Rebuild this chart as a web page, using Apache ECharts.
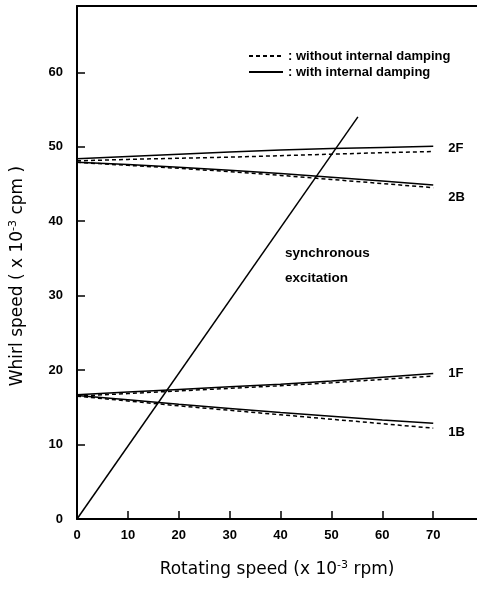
<!DOCTYPE html>
<html>
<head>
<meta charset="utf-8">
<script src="https://cdn.jsdelivr.net/npm/echarts@6/dist/echarts.min.js"></script>
<style>
html,body{margin:0;padding:0;background:#fff;}
#main{width:477px;height:589px;}
</style>
</head>
<body>
<div id="main"></div>
<script>
// Rotating speed (x 10^-3 rpm)
const rotSpeed = [0, 10, 20, 30, 40, 50, 60, 70];
// Whirl speed (x 10^-3 cpm), with internal damping (solid)
const f2With    = [48.4, 48.7, 49.0, 49.3, 49.55, 49.75, 49.9, 50.05];
const b2With    = [47.9, 47.6, 47.25, 46.85, 46.4, 45.9, 45.4, 44.85];
const f1With    = [16.7, 17.05, 17.4, 17.75, 18.1, 18.55, 19.05, 19.55];
const b1With    = [16.6, 16.0, 15.4, 14.85, 14.3, 13.8, 13.3, 12.85];
// without internal damping (dashed)
const f2Without = [48.1, 48.3, 48.45, 48.6, 48.8, 49.0, 49.2, 49.35];
const b2Without = [47.9, 47.5, 47.1, 46.65, 46.15, 45.6, 45.05, 44.5];
const f1Without = [16.5, 16.85, 17.2, 17.55, 17.9, 18.3, 18.75, 19.2];
const b1Without = [16.5, 15.85, 15.2, 14.6, 14.0, 13.4, 12.8, 12.2];
// synchronous excitation line
const syncX = [0, 55.2];
const syncY = [0, 54.0];
const modeLabels = ['2F', '2B', '1F', '1B'];
const xTicks = [0, 10, 20, 30, 40, 50, 60, 70];
const yTicks = [0, 10, 20, 30, 40, 50, 60];

const WITH = 'with internal damping';
const WITHOUT = 'without internal damping';
const pair = (xs, ys) => xs.map((x, i) => [x, ys[i]]);

const labelOffsets = {'2F': [0, 2], '2B': [0, 12], '1F': [0, 0], '1B': [0, 9]};

function solid(ys, lab) {
  return {
    name: WITH, type: 'line', data: pair(rotSpeed, ys), symbol: 'none',
    lineStyle: {color: '#000', width: 1.5, type: 'solid'}, itemStyle: {color: '#000'},
    z: 3,
    endLabel: {show: true, formatter: lab, distance: 15, offset: labelOffsets[lab],
      color: '#000', fontSize: 13, fontWeight: 'bold', fontFamily: 'Liberation Sans'}
  };
}
function dashed(ys) {
  return {
    name: WITHOUT, type: 'line', data: pair(rotSpeed, ys), symbol: 'none',
    lineStyle: {color: '#000', width: 1.5, type: [4, 3]}, itemStyle: {color: '#000'}
  };
}

const chart = echarts.init(document.getElementById('main'));
const font = 'Liberation Sans';
chart.setOption({
  animation: false,
  backgroundColor: '#fff',
  grid: {left: 77, right: 0, top: 6, bottom: 70},
  legend: {
    orient: 'vertical', left: 243, top: 43, itemWidth: 34, itemHeight: 10, itemGap: 0,
    data: [WITHOUT, WITH], formatter: n => ': ' + n,
    itemStyle: {opacity: 0},
    textStyle: {color: '#000', fontSize: 13, fontWeight: 'bold', fontFamily: font, lineHeight: 16}
  },
  xAxis: [{
    type: 'value', min: 0, max: 78.6, interval: 10, position: 'bottom',
    axisLine: {show: true, lineStyle: {color: '#000', width: 2}},
    axisTick: {show: true, inside: true, length: 8, lineStyle: {color: '#000', width: 1.5}},
    splitLine: {show: false},
    axisLabel: {color: '#000', fontSize: 13, fontWeight: 'bold', fontFamily: font, margin: 10,
      formatter: v => xTicks.includes(v) ? String(v) : '', showMaxLabel: false}
  }, {
    type: 'value', min: 0, max: 78.6, position: 'top',
    axisLine: {show: true, onZero: false, lineStyle: {color: '#000', width: 2}},
    axisTick: {show: false}, axisLabel: {show: false}, splitLine: {show: false}
  }],
  yAxis: {
    type: 'value', min: 0, max: 68.9, interval: 10,
    axisLine: {show: true, lineStyle: {color: '#000', width: 2}},
    axisTick: {show: true, inside: true, length: 8, lineStyle: {color: '#000', width: 1.5}},
    splitLine: {show: false},
    axisLabel: {color: '#000', fontSize: 13, fontWeight: 'bold', fontFamily: font, margin: 14,
      formatter: v => yTicks.includes(v) ? String(v) : '', showMaxLabel: false}
  },
  graphic: [
    {type: 'text', x: 18, y: 276, rotation: Math.PI / 2,
      style: {text: '{n|Whirl speed ( x 10}{s|-3}{n| cpm )}', align: 'center', verticalAlign: 'middle',
        rich: {n: {fontSize: 17, fontFamily: 'DejaVu Sans', fill: '#000'},
               s: {fontSize: 11, fontFamily: 'DejaVu Sans', fill: '#000', padding: [0, 0, 9, 0]}}}},
    {type: 'text', x: 277, y: 570,
      style: {text: '{n|Rotating speed (x 10}{s|-3}{n| rpm)}', align: 'center', verticalAlign: 'middle',
        rich: {n: {fontSize: 17, fontFamily: 'DejaVu Sans', fill: '#000'},
               s: {fontSize: 11, fontFamily: 'DejaVu Sans', fill: '#000', padding: [0, 0, 9, 0]}}}},
    {type: 'text', x: 285, y: 241,
      style: {text: 'synchronous\nexcitation', fontSize: 13.5, fontWeight: 'bold', fontFamily: font,
        fill: '#000', lineHeight: 25}}
  ],
  series: [
    dashed(f2Without), dashed(b2Without), dashed(f1Without), dashed(b1Without),
    solid(f2With, modeLabels[0]), solid(b2With, modeLabels[1]),
    solid(f1With, modeLabels[2]), solid(b1With, modeLabels[3]),
    {name: 'synchronous excitation', type: 'line', data: pair(syncX, syncY), symbol: 'none',
      lineStyle: {color: '#000', width: 1.5}, itemStyle: {color: '#000'}}
  ]
});
</script>
</body>
</html>
